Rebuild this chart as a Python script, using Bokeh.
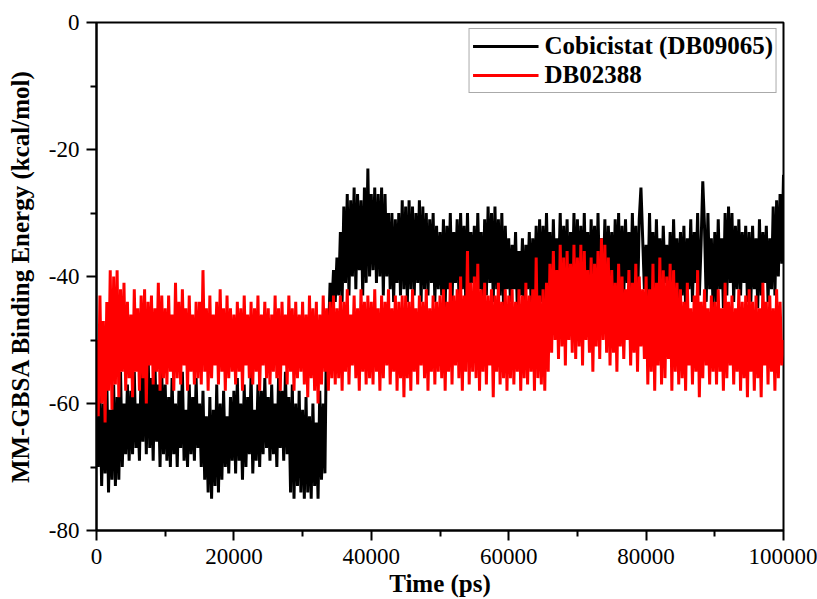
from bokeh.plotting import figure
from bokeh.models import FixedTicker, Legend, LegendItem
from bokeh.embed import file_html
from bokeh.resources import INLINE

time_step_ps = 250
series_names = ["Cobicistat (DB09065)", "DB02388"]
x_ticks = [0, 20000, 40000, 60000, 80000, 100000]
x_tick_labels = ["0", "20000", "40000", "60000", "80000", "100000"]
y_ticks = [-80, -60, -40, -20, 0]
y_tick_labels = ["-80", "-60", "-40", "-20", "0"]

cobicistat = [
    -62,-70,-58,-73,-60,-71,-56,-74,-61,-72,-57,-73,-59,-72,-55,-70,-60,-68,-57,-69,
    -58,-68,-55,-67,-60,-69,-54,-66,-52,-68,-51,-67,-56,-69,-53,-66,-57,-70,-55,-68,
    -57,-69,-59,-70,-56,-68,-60,-70,-58,-67,-55,-69,-61,-70,-57,-68,-59,-69,-56,-67,
    -60,-70,-58,-72,-62,-74,-59,-75,-61,-73,-57,-74,-60,-72,-58,-70,-62,-71,-59,-69,
    -58,-71,-56,-69,-60,-72,-57,-70,-59,-68,-55,-71,-61,-69,-57,-70,-58,-68,-56,-67,
    -59,-69,-57,-68,-60,-70,-56,-67,-58,-69,-55,-68,-59,-74,-57,-75,-60,-73,-58,-74,
    -61,-75,-59,-74,-62,-75,-60,-73,-63,-75,-58,-72,-60,-71,-46,-50,-41,-45,-39,-44,
    -37,-43,-33,-44,-29,-41,-27,-43,-28,-40,-26,-42,-27,-39,-28,-43,-26,-41,-23,-40,
    -27,-39,-26,-41,-27,-40,-26,-43,-27,-40,-30,-42,-30,-44,-31,-41,-30,-43,-28,-42,
    -29,-44,-28,-42,-29,-43,-30,-41,-28,-44,-29,-42,-30,-43,-31,-41,-30,-44,-32,-42,
    -33,-43,-31,-45,-32,-42,-30,-44,-33,-41,-31,-43,-30,-42,-32,-44,-30,-43,-33,-41,
    -32,-44,-30,-42,-33,-45,-31,-43,-29,-41,-30,-44,-29,-42,-31,-43,-30,-45,-32,-42,
    -34,-44,-35,-42,-33,-45,-36,-43,-34,-46,-35,-42,-33,-44,-34,-43,-32,-45,-31,-44,
    -32,-44,-30,-42,-33,-45,-31,-43,-34,-41,-30,-44,-32,-42,-31,-45,-33,-43,-30,-44,
    -31,-43,-32,-45,-30,-42,-33,-44,-31,-41,-32,-45,-30,-43,-34,-42,-31,-44,-32,-41,
    -33,-44,-31,-42,-30,-45,-32,-43,-31,-41,-33,-44,-30,-42,-32,-45,-31,-26,-34,-42,
    -35,-44,-30,-43,-33,-45,-31,-42,-34,-44,-32,-41,-35,-43,-33,-45,-31,-42,-34,-44,
    -33,-43,-32,-45,-34,-42,-31,-44,-33,-41,-30,-43,-35,-25,-32,-44,-30,-42,-34,-45,
    -33,-44,-31,-42,-34,-45,-30,-43,-29,-41,-30,-44,-32,-42,-31,-43,-33,-41,-32,-44,
    -33,-44,-32,-42,-34,-45,-31,-43,-33,-41,-32,-44,-34,-42,-29,-43,-28,-40,-27,-38,
    -24,
]

db02388 = [
    -50,-62,-43,-60,-47,-63,-44,-58,-39,-61,-40,-57,-39,-59,-42,-55,-41,-58,-44,-56,
    -46,-59,-42,-55,-45,-58,-43,-56,-42,-60,-44,-54,-43,-57,-45,-55,-41,-58,-43,-56,
    -45,-57,-43,-55,-46,-58,-41,-56,-44,-57,-42,-54,-45,-58,-43,-55,-46,-57,-44,-56,
    -44,-57,-39,-55,-45,-58,-43,-56,-46,-54,-44,-57,-42,-55,-45,-58,-43,-56,-45,-55,
    -46,-57,-44,-55,-45,-58,-43,-54,-46,-56,-44,-57,-45,-55,-43,-58,-46,-54,-44,-56,
    -45,-57,-46,-55,-43,-56,-45,-58,-44,-54,-46,-57,-43,-55,-45,-58,-44,-56,-46,-55,
    -44,-57,-46,-59,-43,-56,-45,-58,-44,-60,-46,-57,-43,-55,-45,-58,-44,-56,-43,-57,
    -45,-56,-43,-58,-44,-55,-42,-57,-46,-54,-43,-56,-45,-58,-42,-55,-44,-57,-43,-56,
    -44,-57,-42,-55,-45,-58,-43,-56,-44,-54,-42,-57,-45,-55,-43,-58,-44,-56,-43,-59,
    -43,-56,-44,-58,-42,-55,-45,-57,-43,-54,-44,-56,-42,-58,-45,-55,-43,-57,-44,-55,
    -43,-56,-42,-58,-44,-55,-41,-57,-43,-54,-42,-56,-40,-58,-43,-55,-36,-57,-41,-55,
    -40,-56,-38,-58,-42,-55,-41,-57,-43,-54,-42,-59,-43,-55,-41,-57,-44,-56,-42,-58,
    -43,-56,-42,-57,-44,-55,-42,-58,-43,-56,-41,-57,-43,-55,-42,-58,-37,-56,-43,-57,
    -42,-58,-41,-55,-38,-52,-36,-50,-39,-53,-35,-51,-37,-54,-36,-50,-38,-52,-35,-53,
    -37,-51,-35,-54,-36,-50,-39,-52,-37,-55,-38,-51,-36,-53,-34,-50,-35,-52,-37,-54,
    -39,-52,-41,-55,-38,-51,-40,-53,-42,-50,-39,-54,-41,-52,-38,-55,-40,-51,-42,-53,
    -40,-57,-42,-55,-38,-58,-41,-54,-37,-57,-39,-56,-40,-53,-38,-58,-39,-55,-41,-57,
    -42,-56,-44,-58,-41,-54,-45,-57,-43,-55,-39,-59,-44,-56,-42,-54,-45,-57,-43,-55,
    -44,-57,-42,-55,-45,-58,-41,-56,-44,-54,-43,-57,-45,-55,-42,-58,-44,-56,-43,-59,
    -42,-55,-44,-58,-43,-56,-45,-59,-41,-54,-44,-57,-43,-55,-45,-58,-42,-56,-44,-54,
    -50,
]

time_cobi = [i * time_step_ps for i in range(len(cobicistat))]
time_db = [i * time_step_ps for i in range(len(db02388))]

FONT = "Liberation Serif"

p = figure(width=817, height=599, output_backend="svg", toolbar_location=None,
           x_range=(0, 100000), y_range=(-80, 0),
           min_border_left=96, min_border_right=34, min_border_top=22, min_border_bottom=69)
p.background_fill_color = "white"
p.border_fill_color = "white"
p.grid.visible = False
p.outline_line_color = "black"
p.outline_line_width = 2

r1 = p.line(time_cobi, cobicistat, line_color="black", line_width=3)
r2 = p.line(time_db, db02388, line_color="#ff0000", line_width=3)

for ax in (p.xaxis[0], p.yaxis[0]):
    ax.axis_line_width = 2
    ax.axis_line_color = "black"
    ax.major_tick_line_width = 2
    ax.minor_tick_line_width = 2
    ax.major_tick_in = 0
    ax.major_tick_out = 10
    ax.minor_tick_in = 0
    ax.minor_tick_out = 6
    ax.major_label_text_font = FONT
    ax.major_label_text_font_size = "23px"
    ax.major_label_text_color = "black"
    ax.axis_label_text_font = FONT
    ax.axis_label_text_font_style = "bold"
    ax.axis_label_text_font_size = "25px"
    ax.axis_label_text_color = "black"

p.xaxis.ticker = FixedTicker(ticks=x_ticks, minor_ticks=[10000, 30000, 50000, 70000, 90000])
p.yaxis.ticker = FixedTicker(ticks=y_ticks, minor_ticks=[-70, -50, -30, -10])
p.xaxis.major_label_overrides = dict(zip(x_ticks, x_tick_labels))
p.yaxis.major_label_overrides = dict(zip(y_ticks, y_tick_labels))
p.xaxis.axis_label = "Time (ps)"
p.yaxis.axis_label = "MM-GBSA Binding Energy (kcal/mol)"
p.xaxis.major_label_standoff = 8
p.yaxis.major_label_standoff = 7
p.xaxis.axis_label_standoff = 3
p.yaxis.axis_label_standoff = 12

legend = Legend(items=[LegendItem(label=series_names[0], renderers=[r1]),
                       LegendItem(label=series_names[1], renderers=[r2])],
                location="top_right", margin=6)
legend.label_text_font = FONT
legend.label_text_font_style = "bold"
legend.label_text_font_size = "25px"
legend.label_text_color = "black"
legend.glyph_width = 66
legend.glyph_height = 26
legend.label_height = 26
legend.label_standoff = 6
legend.padding = 3
legend.spacing = 1
legend.border_line_color = "#555555"
legend.border_line_width = 1
legend.background_fill_color = "white"
legend.background_fill_alpha = 1
p.add_layout(legend)

open("out.html", "w").write(file_html(p, INLINE))
